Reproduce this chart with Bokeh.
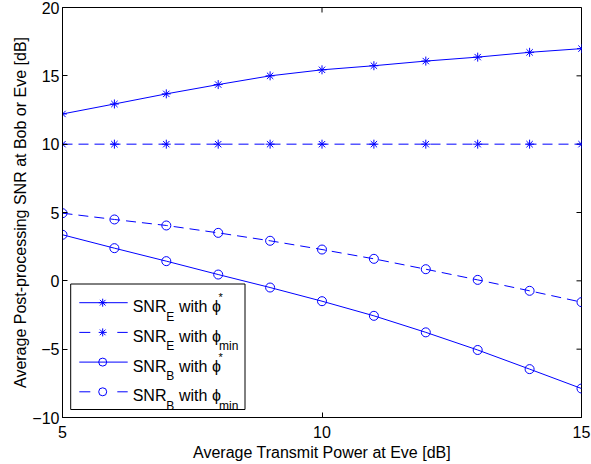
import math
from bokeh.plotting import figure
from bokeh.models import Range1d, FixedTicker, Label
from bokeh.embed import file_html
from bokeh.resources import INLINE

# ---------------- data ----------------
power_db = [5, 6, 7, 8, 9, 10, 11, 12, 13, 14, 15]
snr_e_opt = [12.21, 12.94, 13.68, 14.36, 15.00, 15.44, 15.74, 16.08, 16.37, 16.72, 16.99]
snr_e_min = [10.0, 10.0, 10.0, 10.0, 10.0, 10.0, 10.0, 10.0, 10.0, 10.0, 10.0]
snr_b_opt = [3.37, 2.39, 1.44, 0.46, -0.49, -1.49, -2.56, -3.77, -5.06, -6.46, -7.88]
snr_b_min = [4.95, 4.49, 4.05, 3.51, 2.93, 2.29, 1.61, 0.85, 0.07, -0.73, -1.56]
x_ticks = [5, 10, 15]
y_ticks = [-10, -5, 0, 5, 10, 15, 20]
x_label = "Average Transmit Power at Eve [dB]"
y_label = "Average Post-processing SNR at Bob or Eve [dB]"
legend_main = ["SNR", "SNR", "SNR", "SNR"]
legend_sub = ["E", "E", "B", "B"]
legend_mid = ["with \u03d5", "with \u03d5", "with \u03d5", "with \u03d5"]
legend_tail = ["*", "min", "*", "min"]

# ---------------- style ----------------
FONT = "Liberation Sans"
BLUE = "#0000ff"
W, H = 591, 464
BL, BR, BT, BB = 62, 10, 7, 47
FW, FH = W - BL - BR, H - BT - BB
X0, X1, Y0, Y1 = 5, 15, -10, 20

p = figure(width=W, height=H, output_backend="svg", toolbar_location=None,
           x_range=Range1d(X0, X1), y_range=Range1d(Y0, Y1),
           min_border_left=BL, min_border_right=BR, min_border_top=BT, min_border_bottom=BB)
p.background_fill_color = "white"
p.border_fill_color = "white"
p.outline_line_color = "black"
p.outline_line_width = 1
p.outline_line_alpha = 1
p.grid.visible = False


def style_axis(ax):
    ax.axis_line_color = "black"
    ax.major_tick_line_color = "black"
    ax.major_tick_in = 5
    ax.major_tick_out = 0
    ax.minor_tick_in = 0
    ax.minor_tick_out = 0
    ax.minor_tick_line_color = None
    ax.major_label_text_font = FONT
    ax.major_label_text_font_size = "16px"
    ax.major_label_text_color = "black"
    ax.axis_label_text_font = FONT
    ax.axis_label_text_font_style = "normal"
    ax.axis_label_text_font_size = "16px"
    ax.axis_label_text_color = "black"


xa = p.xaxis[0]
xa.ticker = FixedTicker(ticks=x_ticks)
style_axis(xa)
xa.axis_label = x_label
xa.major_label_standoff = 8
xa.axis_label_standoff = 3

ya = p.yaxis[0]
ya.ticker = FixedTicker(ticks=y_ticks)
style_axis(ya)
ya.axis_label = y_label
ya.major_label_standoff = 3
ya.axis_label_standoff = 0
ya.major_label_overrides = {t: ("\u2212" + str(-t)) for t in y_ticks if t < 0}

# inward ticks on the top and right edges of the box
p.ray(x=x_ticks, y=[Y1] * len(x_ticks), length=5, length_units="screen",
      angle=-math.pi / 2, line_color="black", line_width=1)
p.ray(x=[X1] * len(y_ticks), y=y_ticks, length=5, length_units="screen",
      angle=math.pi, line_color="black", line_width=1)

# ---------------- series ----------------
series = [
    (snr_e_opt, "solid", "asterisk"),
    (snr_e_min, "10 6", "asterisk"),
    (snr_b_opt, "solid", "circle"),
    (snr_b_min, "10 6", "circle"),
]
for ys, dash, mk in series:
    p.line(power_db, ys, line_color=BLUE, line_width=1, line_dash=dash)
    p.scatter(power_db, ys, marker=mk, size=9, line_color=BLUE, line_width=1,
              fill_color=None)


# ---------------- legend (drawn by hand, pixel layout -> data units) ----------------
def dx(px):
    return X0 + px * (X1 - X0) / FW


def dy(py):
    return Y0 + py * (Y1 - Y0) / FH


LEG_L, LEG_R, LEG_B, LEG_T = 8.2, 182.5, 8.0, 133.5
ROW0, PITCH = 114.8, 29.7
SAMPLE_L, SAMPLE_R, SAMPLE_M = 16.8, 65.2, 40.2

p.quad(left=[dx(LEG_L)], right=[dx(LEG_R)], bottom=[dy(LEG_B)], top=[dy(LEG_T)],
       fill_color="white", fill_alpha=1, line_color="black", line_width=1)

for i, (ys, dash, mk) in enumerate(series):
    c = ROW0 - i * PITCH
    sample_dash = "solid" if dash == "solid" else "11 27"
    p.line([dx(SAMPLE_L), dx(SAMPLE_R)], [dy(c), dy(c)], line_color=BLUE, line_width=1,
           line_dash=sample_dash)
    p.scatter([dx(SAMPLE_M)], [dy(c)], marker=mk, size=8, line_color=BLUE, line_width=1,
              fill_color=None)
    base = c - 4
    kw = dict(x_units="data", y_units="data", text_font=FONT, text_color="black",
              text_baseline="alphabetic", text_align="left")
    p.add_layout(Label(x=dx(70.2), y=dy(base), text=legend_main[i], text_font_size="16px", **kw))
    p.add_layout(Label(x=dx(103.8), y=dy(base - 10), text=legend_sub[i], text_font_size="12px", **kw))
    p.add_layout(Label(x=dx(116.5), y=dy(base), text=legend_mid[i], text_font_size="16px", **kw))
    if legend_tail[i] == "*":
        p.add_layout(Label(x=dx(156), y=dy(base + 9.5), text=legend_tail[i], text_font_size="11px", **kw))
    else:
        p.add_layout(Label(x=dx(156.5), y=dy(base - 10), text=legend_tail[i], text_font_size="12px", **kw))

open("out.html", "w").write(file_html(p, INLINE))
